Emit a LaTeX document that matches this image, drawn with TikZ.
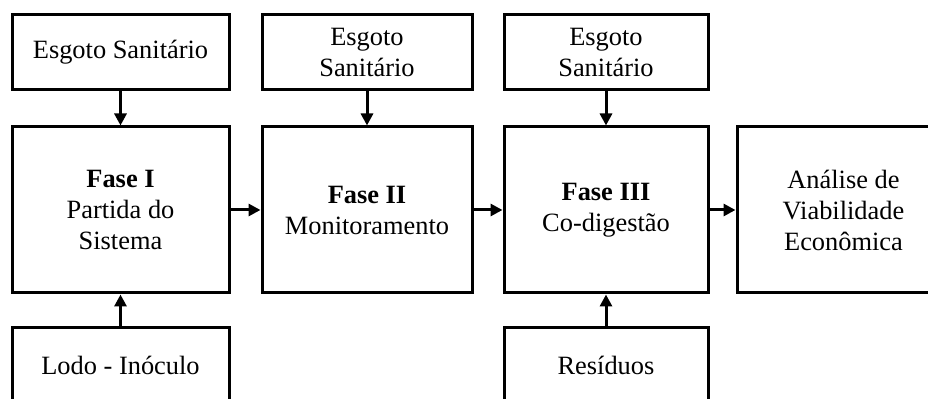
\documentclass[tikz,border=0pt]{standalone}
\usepackage{fontspec}
\setmainfont{Liberation Serif}
\usepackage{tikz}
\usetikzlibrary{arrows.meta}
\usetikzlibrary{positioning}
\tikzstyle{inputblock} = [rectangle, minimum height=37.5pt, text centered, align=center,
  draw=black, line width=1.5pt, inner sep=2pt]
\tikzstyle{phaseblock} = [rectangle, minimum height=83pt, text centered, align=center,
  draw=black, line width=1.5pt, inner sep=2pt]
\tikzstyle{arrow} = [line width=1.5pt,-{Triangle[length=6pt,width=6pt]}]

\begin{document}
\begin{tikzpicture}[font=\fontsize{13.2pt}{15.5pt}\selectfont]
  \useasboundingbox (0,0) rectangle (464pt,-199.5pt);
  % middle row: the three phases and the analysis
  \node (fase1) [phaseblock, minimum width=108.5pt] at (60.25pt,-105pt) {\textbf{Fase I}\\Partida do\\Sistema};
  \node (fase2) [phaseblock, minimum width=105pt, right=15pt of fase1] {\textbf{Fase II}\\Monitoramento};
  \node (fase3) [phaseblock, minimum width=102pt, right=14.5pt of fase2] {\textbf{Fase III}\\Co-digestão};
  \node (analise) [phaseblock, minimum width=106.5pt, right=13pt of fase3] {Análise de\\Viabilidade\\Econômica};
  % inputs above and below
  \node (esgoto1) [inputblock, minimum width=108.5pt, above=17pt of fase1] {Esgoto Sanitário};
  \node (esgoto2) [inputblock, minimum width=105pt, above=17pt of fase2] {Esgoto\\Sanitário};
  \node (esgoto3) [inputblock, minimum width=102pt, above=17pt of fase3] {Esgoto\\Sanitário};
  \node (lodo) [inputblock, minimum width=108.5pt, below=16pt of fase1] {Lodo - Inóculo};
  \node (residuos) [inputblock, minimum width=102pt, below=16pt of fase3] {Resíduos};
  \draw [arrow] (esgoto1) -- (fase1);
  \draw [arrow] (esgoto2) -- (fase2);
  \draw [arrow] (esgoto3) -- (fase3);
  \draw [arrow] (lodo) -- (fase1);
  \draw [arrow] (residuos) -- (fase3);
  \draw [arrow] (fase1) -- (fase2);
  \draw [arrow] (fase2) -- (fase3);
  \draw [arrow] (fase3) -- (analise);
\end{tikzpicture}
\end{document}
